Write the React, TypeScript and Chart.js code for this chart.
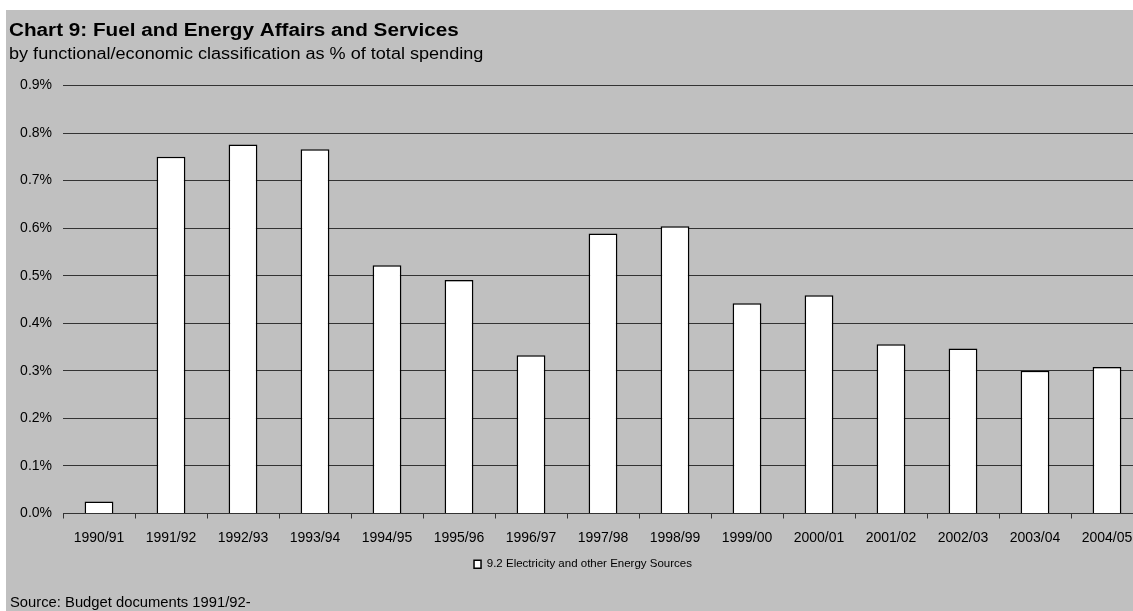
import React, { useEffect, useRef } from 'react';
import { Chart, registerables } from 'chart.js';

Chart.register(...registerables);

const FONT = '"Liberation Sans", Arial, Helvetica, sans-serif';

const chartTitle = 'Chart 9: Fuel and Energy Affairs and Services';
const chartSubtitle = 'by functional/economic classification as % of total spending';
const sourceNote = 'Source: Budget documents 1991/92-';
const seriesLabel = '9.2 Electricity and other Energy Sources';

// Fiscal years on the category axis
const years = [
  '1990/91', '1991/92', '1992/93', '1993/94', '1994/95',
  '1995/96', '1996/97', '1997/98', '1998/99', '1999/00',
  '2000/01', '2001/02', '2002/03', '2003/04', '2004/05',
];

// Electricity and other energy sources, % of total spending
const electricityShare = [
  0.025, 0.750, 0.776, 0.766, 0.522,
  0.491, 0.333, 0.589, 0.604, 0.442,
  0.459, 0.356, 0.347, 0.300, 0.308,
];

// Value axis range and step (percent)
const yMin = 0;
const yMax = 0.9;
const yStep = 0.1;

// Draws the heading, sub-heading and source line onto the canvas
const headerPlugin = {
  id: 'headerText',
  afterLayout(chart: any) {
    // nudge the legend a little to the right of the plot's centre line
    if (chart.legend) {
      chart.legend.left += 7;
      chart.legend.right += 7;
    }
  },
  afterDraw(chart: any) {
    const ctx: CanvasRenderingContext2D = chart.ctx;
    const draw = (text: string, font: string, x: number, y: number, sx: number) => {
      ctx.save();
      ctx.font = font;
      ctx.fillStyle = '#000';
      ctx.textAlign = 'left';
      ctx.textBaseline = 'alphabetic';
      ctx.translate(x, y);
      ctx.scale(sx, 1);
      ctx.fillText(text, 0, 0);
      ctx.restore();
    };
    draw(chartTitle, `bold 18px ${FONT}`, 3, 26, 1.15);
    draw(chartSubtitle, `16px ${FONT}`, 3, 49, 1.13);
    draw(sourceNote, `15px ${FONT}`, 4, 597, 0.985);
  },
};

export default function App() {
  const canvasRef = useRef<HTMLCanvasElement | null>(null);

  useEffect(() => {
    if (!canvasRef.current) return;
    const chart = new Chart(canvasRef.current, {
      type: 'bar',
      data: {
        labels: years,
        datasets: [
          {
            label: seriesLabel,
            data: electricityShare,
            backgroundColor: '#ffffff',
            borderColor: '#000000',
            borderWidth: 1.5,
            barPercentage: 0.4,
            categoryPercentage: 1,
          },
        ],
      },
      options: {
        responsive: false,
        animation: false,
        layout: { padding: { left: 3, right: 23, top: 75.5, bottom: 31 } },
        plugins: {
          title: { display: false },
          tooltip: { enabled: false },
          legend: {
            position: 'bottom',
            labels: {
              boxWidth: 7,
              boxHeight: 8,
              color: '#000',
              padding: 10,
              font: { family: FONT, size: 11.5 },
            },
          },
        },
        scales: {
          x: {
            grid: {
              display: true,
              drawOnChartArea: false,
              drawTicks: true,
              tickLength: 5,
              offset: true,
              color: '#333',
            },
            border: { display: true, color: '#333', width: 1 },
            ticks: {
              color: '#000',
              font: { family: FONT, size: 14 },
              maxRotation: 0,
              autoSkip: false,
              padding: 11,
            },
            afterFit: (s: any) => {
              s.height = 35;
            },
          },
          y: {
            min: yMin,
            max: yMax,
            ticks: {
              stepSize: yStep,
              callback: (v: any) => Number(v).toFixed(1) + '%',
              color: '#000',
              font: { family: FONT, size: 14 },
              padding: 11,
            },
            grid: { color: '#333', lineWidth: 1, drawTicks: false },
            border: { display: false },
            afterFit: (s: any) => {
              s.width = 54;
            },
          },
        },
      },
      plugins: [headerPlugin],
    });
    return () => chart.destroy();
  }, []);

  return (
    <div style={{ position: 'fixed', inset: 0, overflow: 'hidden', background: '#fff' }}>
      <div
        style={{
          position: 'absolute',
          left: 6,
          top: 10,
          width: 1160,
          height: 601,
          background: '#c0c0c0',
        }}
      >
        <canvas ref={canvasRef} width={1160} height={601} />
      </div>
    </div>
  );
}
